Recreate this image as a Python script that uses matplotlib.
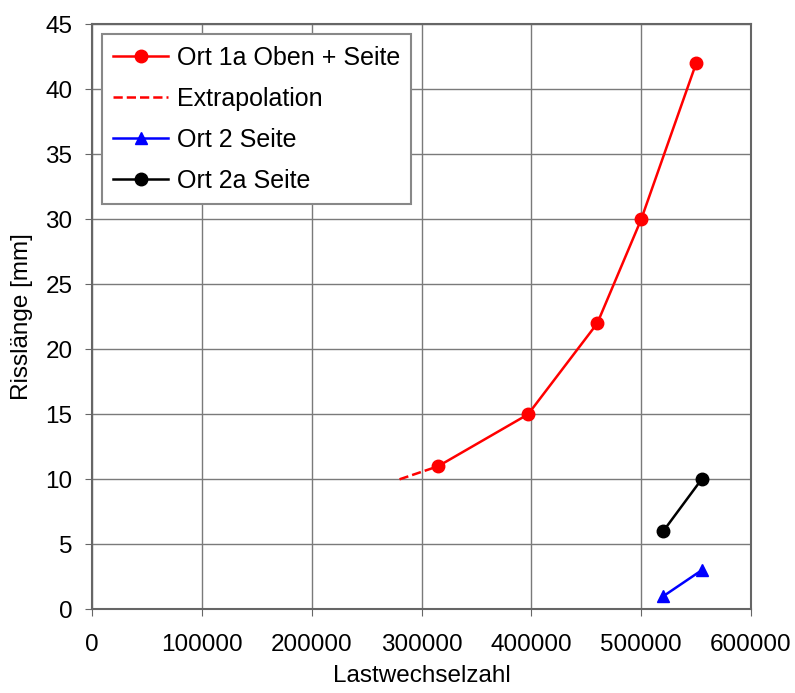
import numpy as np
import matplotlib
matplotlib.use('Agg')
import matplotlib.pyplot as plt

plt.rcParams['font.family'] = ['Liberation Sans', 'DejaVu Sans']

#Data
x_ort1a = [315000, 397000, 460000, 500000, 550000]
y_ort1a = [11, 15, 22, 30, 42]
x_extra = [280000, 315000]
y_extra = [10, 11]
x_ort2 = [520000, 555000]
y_ort2 = [1, 3]
x_ort2a = [520000, 555000]
y_ort2a = [6, 10]

fig = plt.figure(figsize=(7.95, 6.93), dpi=100)
ax = fig.add_axes([0.1157, 0.1208, 0.829, 0.844])

ax.plot(x_ort1a, y_ort1a, color='red', marker='o', markersize=9, lw=1.8, label='Ort 1a Oben + Seite')
ax.plot(x_extra, y_extra, color='red', ls='--', lw=1.8, label='Extrapolation')
ax.plot(x_ort2, y_ort2, color='blue', marker='^', markersize=9, lw=1.8, label='Ort 2 Seite')
ax.plot(x_ort2a, y_ort2a, color='black', marker='o', markersize=9, lw=1.8, label='Ort 2a Seite')

ax.set_xlim(0, 600000)
ax.set_ylim(0, 45)
ax.set_xticks(np.arange(0, 600001, 100000))
ax.set_yticks(np.arange(0, 46, 5))
ax.grid(color='#7a7a7a', lw=1.0)
ax.set_axisbelow(True)
for s in ax.spines.values():
    s.set_color('#666666')
    s.set_linewidth(1.5)
ax.tick_params(labelsize=17.5, color='#666666', length=5)
ax.tick_params(axis='x', pad=13)
ax.tick_params(axis='y', pad=9)

ax.set_xlabel('Lastwechselzahl', fontsize=17.5, labelpad=6)
ax.set_ylabel('Risslänge [mm]', fontsize=17.5, labelpad=9)

leg = ax.legend(loc='upper left', fontsize=18, fancybox=False, framealpha=1,
                edgecolor='#888888', handlelength=2.2, handletextpad=0.35,
                borderpad=0.45, labelspacing=0.68, borderaxespad=0.4)
leg.get_frame().set_linewidth(1.5)

plt.savefig('out.png')
